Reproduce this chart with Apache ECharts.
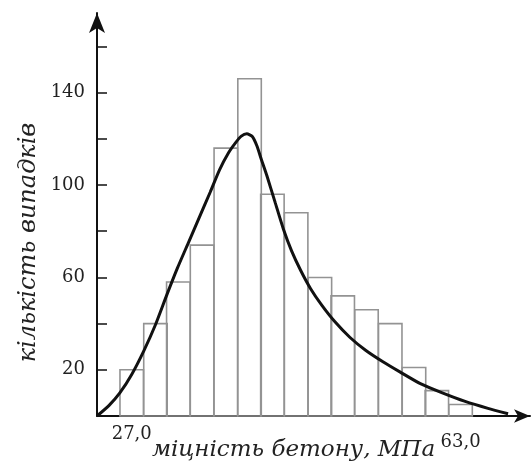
<!DOCTYPE html>
<html>
<head>
<meta charset="utf-8">
<script src="https://cdn.jsdelivr.net/npm/echarts@6/dist/echarts.min.js"></script>
<style>
html,body{margin:0;padding:0;background:#fff;}
#chart{width:532px;height:463px;}
</style>
</head>
<body>
<div id="chart"></div>
<script>
// Class midpoints (MPa) and counts
const binCenters = [27.0, 29.6, 32.1, 34.7, 37.3, 39.9, 42.4, 45.0, 47.6, 50.1, 52.7, 55.3, 57.9, 60.4, 63.0];
const binCounts  = [20, 40, 58, 74, 116, 146, 96, 88, 60, 52, 46, 40, 21, 11, 5];
const binWidth = 2.57;

// Fitted distribution curve [MPa, count]
const curvePoints = [
  [23.2, 0], [24.5, 4.5], [25.7, 10], [27.0, 18], [28.3, 28], [29.6, 39.5],
  [30.8, 52], [32.0, 64], [33.2, 75], [34.4, 86], [35.6, 97], [36.6, 106.5],
  [37.6, 114], [38.4, 118.5], [39.0, 121.2], [39.6, 122.2], [40.2, 121], [40.7, 117],
  [41.2, 111], [41.8, 104], [42.7, 92.5], [43.6, 81], [44.5, 71.5], [45.5, 63],
  [46.6, 55], [47.8, 48], [49.2, 41], [50.9, 34], [52.6, 28.5], [54.5, 23.5],
  [56.4, 19], [58.6, 14], [61.0, 10], [63.5, 6.3], [66.0, 3.3], [68.2, 1.0]
];

const xLabelValues = [27, 63];
const yTickValues = [20, 40, 60, 80, 100, 120, 140, 160];
const yLabelValues = [20, 60, 100, 140];

const xName = 'міцність бетону, МПа';
const yName = 'кількість випадків';

const chart = echarts.init(document.getElementById('chart'), null, {renderer: 'canvas'});
const serif = '"DejaVu Serif", "Liberation Serif", serif';

chart.setOption({
  animation: false,
  backgroundColor: '#fff',
  grid: {left: 97, right: 2, top: 13, bottom: 47, outerBoundsMode: 'none', containLabel: false},
  xAxis: {
    type: 'value',
    min: 23.2,
    max: 70.6,
    splitLine: {show: false},
    axisLine: {show: true, lineStyle: {color: '#111', width: 2}, symbol: ['none', 'arrow'], symbolSize: [10, 16]},
    axisTick: {show: false},
    axisLabel: {
      customValues: xLabelValues,
      formatter: v => v === 63 ? '{lo|' + v.toFixed(1).replace('.', ',') + '}' : v.toFixed(1).replace('.', ','),
      fontFamily: serif, fontSize: 18, color: '#222', margin: 9,
      rich: {lo: {fontFamily: serif, fontSize: 18, color: '#222', padding: [8, 0, 0, 0]}}
    },
    name: xName,
    nameLocation: 'middle',
    nameGap: 23,
    nameMoveOverlap: false,
    nameTextStyle: {fontFamily: serif, fontStyle: 'italic', fontSize: 23, color: '#222', padding: [0, 40, 0, 0]}
  },
  yAxis: {
    type: 'value',
    min: 0,
    max: 174.5,
    splitLine: {show: false},
    axisLine: {show: true, lineStyle: {color: '#111', width: 2}, symbol: ['none', 'arrow'], symbolSize: [12, 20]},
    axisTick: {show: true, inside: true, length: 10, customValues: yTickValues, lineStyle: {color: '#111', width: 1.5}},
    axisLabel: {
      customValues: yLabelValues,
      fontFamily: serif, fontSize: 18, color: '#222', margin: 12
    },
    name: yName,
    nameLocation: 'middle',
    nameRotate: 90,
    nameGap: 56,
    nameMoveOverlap: false,
    nameTextStyle: {fontFamily: serif, fontStyle: 'italic', fontSize: 24, color: '#222', padding: [0, 56, 0, 0]}
  },
  series: [
    {
      type: 'custom',
      data: binCenters.map((c, i) => [c, binCounts[i]]),
      renderItem: function (params, api) {
        const c = api.value(0), v = api.value(1);
        const p0 = api.coord([c - binWidth / 2, v]);
        const p1 = api.coord([c + binWidth / 2, 0]);
        return {
          type: 'rect',
          shape: {x: p0[0], y: p0[1], width: p1[0] - p0[0], height: p1[1] - p0[1]},
          style: {fill: 'none', stroke: '#939393', lineWidth: 1.6}
        };
      },
      z: 1
    },
    {
      type: 'line',
      data: curvePoints,
      smooth: 0.2,
      showSymbol: false,
      lineStyle: {color: '#111', width: 3},
      z: 3
    }
  ]
});
</script>
</body>
</html>
